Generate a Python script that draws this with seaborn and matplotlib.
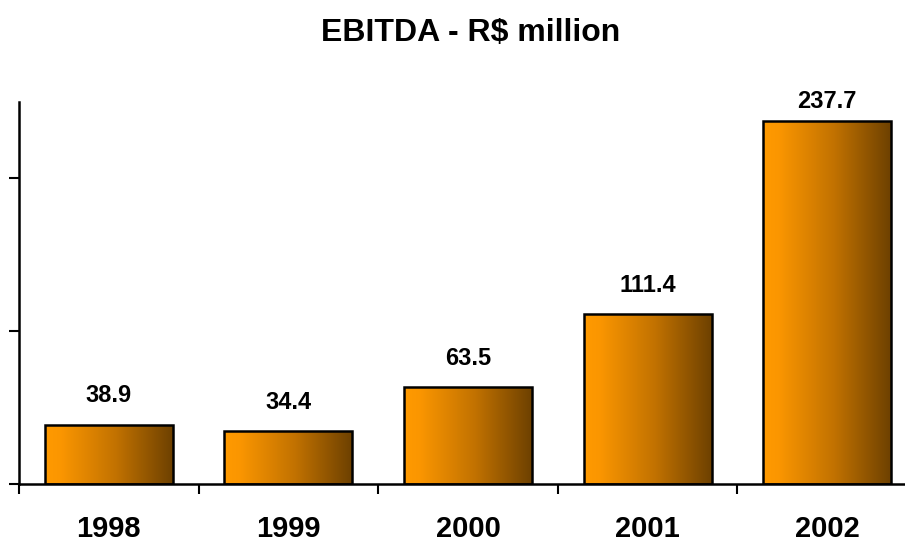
import numpy as np
import pandas as pd
import matplotlib
matplotlib.use("Agg")
import matplotlib.pyplot as plt
from matplotlib.colors import LinearSegmentedColormap
import seaborn as sns

years = ["1998", "1999", "2000", "2001", "2002"]
ebitda = [38.9, 34.4, 63.5, 111.4, 237.7]

sns.set_theme(style="white")
plt.rcParams["font.family"] = ["Liberation Sans", "DejaVu Sans"]
plt.rcParams["text.color"] = "black"
plt.rcParams["xtick.color"] = "black"
plt.rcParams["ytick.color"] = "black"
plt.rcParams["axes.labelcolor"] = "black"

df = pd.DataFrame({"year": years, "ebitda": ebitda})

fig = plt.figure(figsize=(9.05, 5.41), dpi=100)
ax = fig.add_axes([19 / 905, 57 / 541, 898 / 905, 382 / 541])

sns.barplot(data=df, x="year", y="ebitda", ax=ax, width=0.713,
            facecolor="none", edgecolor="black", linewidth=1.8, zorder=3)

# horizontal orange-to-brown shading inside each bar
shade = LinearSegmentedColormap.from_list(
    "shade", [(0.0, "#FF9A00"), (0.12, "#FB9600"), (0.55, "#C27200"), (1.0, "#6C4000")])
grad = np.linspace(0, 1, 256).reshape(1, -1)
for patch in ax.patches:
    x0, y0 = patch.get_x(), patch.get_y()
    w, h = patch.get_width(), patch.get_height()
    im = ax.imshow(grad, cmap=shade, aspect="auto", extent=(x0, x0 + w, y0, y0 + h),
                   zorder=2, interpolation="bilinear")
    im.set_clip_path(patch)

ax.set_xlim(-0.5, 4.5)
ax.set_ylim(0, 250)

# value labels above bars
for i, v in enumerate(ebitda):
    ax.text(i, min(v + 11.2, 243.0), f"{v:.1f}", ha="center", va="bottom",
            fontsize=17, fontweight="bold", color="black")

fig.text(471 / 905, 1 - 33 / 541, "EBITDA - R$ million", ha="center", va="center",
         fontsize=23, fontweight="bold", color="black")

ax.set_xlabel("")
ax.set_ylabel("")
ax.set_yticks([0, 100, 200])
ax.set_yticklabels([])
ax.set_xticks(range(len(years)))
ax.set_xticklabels(years, fontsize=21, fontweight="bold", color="black")
ax.set_xticks([-0.5, 0.5, 1.5, 2.5, 3.5, 4.5], minor=True)
ax.tick_params(axis="x", which="major", length=0, pad=22)
ax.tick_params(axis="x", which="minor", direction="out", length=7, width=1.5,
               color="black", bottom=True)
ax.tick_params(axis="y", direction="out", length=7, width=1.5, color="black", left=True)

for side in ["top", "right"]:
    ax.spines[side].set_visible(False)
for side in ["left", "bottom"]:
    ax.spines[side].set_visible(True)
    ax.spines[side].set_color("black")
    ax.spines[side].set_linewidth(1.8)
ax.grid(False)
ax.set_facecolor("white")

fig.savefig("out.png", dpi=100, facecolor="white")
